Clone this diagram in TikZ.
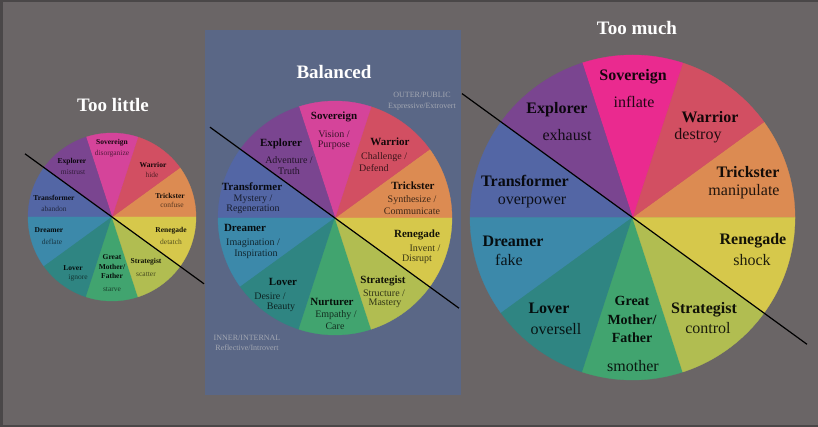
\documentclass[tikz,border=0pt]{standalone}
\usepackage{fontspec}
\setmainfont{Liberation Serif}
\definecolor{frame}{HTML}{4A4748}
\definecolor{bg}{HTML}{6A6566}
\definecolor{panel}{HTML}{5A6786}
\definecolor{cExp}{HTML}{7A4590}
\definecolor{cSov}{HTML}{D5449A}
\definecolor{cSovB}{HTML}{EA2A8F}
\definecolor{cWar}{HTML}{D24F62}
\definecolor{cTri}{HTML}{DC8B52}
\definecolor{cRen}{HTML}{D6C84B}
\definecolor{cStr}{HTML}{B1BD51}
\definecolor{cGrn}{HTML}{41A46F}
\definecolor{cLov}{HTML}{2F8582}
\definecolor{cDre}{HTML}{3C89AA}
\definecolor{cTra}{HTML}{5366A5}
\definecolor{sidetext}{HTML}{A3A7B2}
\newcommand{\pieslice}[5]{%
  \fill[#5, draw=#5, line width=0.3pt] (#1,#2) -- ++(-#4:#3) arc[start angle=-#4, end angle=-#4-36, radius=#3] -- cycle;}
\newcommand{\wholepie}[4]{% cx cy r sovereign colour
  \pieslice{#1}{#2}{#3}{0}{cTri}
  \pieslice{#1}{#2}{#3}{36}{cWar}
  \pieslice{#1}{#2}{#3}{72}{#4}
  \pieslice{#1}{#2}{#3}{108}{cExp}
  \pieslice{#1}{#2}{#3}{144}{cTra}
  \pieslice{#1}{#2}{#3}{180}{cDre}
  \pieslice{#1}{#2}{#3}{216}{cLov}
  \pieslice{#1}{#2}{#3}{252}{cGrn}
  \pieslice{#1}{#2}{#3}{288}{cStr}
  \pieslice{#1}{#2}{#3}{324}{cRen}}
\tikzset{
  title/.style={font=\fontsize{19}{21}\selectfont\bfseries, text=white, inner sep=0},
  lname/.style={font=\fontsize{7.5}{9.5}\selectfont\bfseries, text=black, text opacity=0.9, inner sep=0, align=center},
  ldesc/.style={font=\fontsize{7.5}{9}\selectfont, text=black, text opacity=0.6, inner sep=0, align=center},
  bname/.style={font=\fontsize{11}{12}\selectfont\bfseries, text=black, text opacity=0.9, inner sep=0},
  bdesc/.style={font=\fontsize{10}{11}\selectfont, text=black, text opacity=0.72, inner sep=0},
  mname/.style={font=\fontsize{16}{18.5}\selectfont\bfseries, text=black, text opacity=0.9, inner sep=0, align=center},
  mdesc/.style={font=\fontsize{16}{18}\selectfont, text=black, text opacity=0.85, inner sep=0},
  side/.style={font=\fontsize{8}{9}\selectfont, text=sidetext, inner sep=0},
  divider/.style={draw=black, line width=1.2pt}
}
\begin{document}
\begin{tikzpicture}[x=1pt,y=-1pt]
\useasboundingbox (0,0) rectangle (818,427);
\fill[frame] (0,0) rectangle (818,427);
\fill[bg] (2.5,2.5) rectangle (818,425);
\fill[panel] (205,30) rectangle (461,395);

% pies
\wholepie{112}{217}{84}{cSov}
\wholepie{335}{218}{117}{cSov}
\wholepie{632.5}{217.5}{162.5}{cSovB}

% dividers
\coordinate (l1) at (25,153.8);  \coordinate (l2) at (204,283.8);
\coordinate (b1) at (210,127.2); \coordinate (b2) at (459,308.2);
\coordinate (m1) at (462,93.6);  \coordinate (m2) at (807,344.3);
\draw[divider] (l1) -- (l2);
\draw[divider] (b1) -- (b2);
\draw[divider] (m1) -- (m2);

% titles
\node[title] (t1) at (113,105) {Too little};
\node[title] (t2) at (334,72) {Balanced};
\node[title] (t3) at (637,28) {Too much};

% too little
\node[lname] (lsov) at (112,143) {Sovereign};
\node[ldesc] (lsovd) at (112,154) {disorganize};
\node[lname] (lexp) at (72,162) {Explorer};
\node[ldesc] (lexpd) at (73,172) {mistrust};
\node[lname] (lwar) at (153,165) {Warrior};
\node[ldesc] (lward) at (152,175) {hide};
\node[lname] (ltri) at (170,196) {Trickster};
\node[ldesc] (ltrid) at (172,205) {confuse};
\node[lname] (ltra) at (54,198) {Transformer};
\node[ldesc] (ltrad) at (54,209) {abandon};
\node[lname] (ldre) at (49,230) {Dreamer};
\node[ldesc] (ldred) at (52,242) {deflate};
\node[lname] (lren) at (171,231) {Renegade};
\node[ldesc] (lrend) at (171,242) {detatch};
\node[lname] (llov) at (73,268) {Lover};
\node[ldesc] (llovd) at (78,278) {ignore};
\node[lname] (lgrn) at (112,267) {Great\\Mother/\\Father};
\node[ldesc] (lgrnd) at (112,289) {starve};
\node[lname] (lstr) at (146,262) {Strategist};
\node[ldesc] (lstrd) at (146,274) {scatter};

% balanced
\node[side] (out1) at (422,95) {OUTER/PUBLIC};
\node[side] (out2) at (422,107) {Expressive/Extrovert};
\node[side] (in1) at (247,338) {INNER/INTERNAL};
\node[side] (in2) at (247,347.5) {Reflective/Introvert};
\node[bname] (bsov) at (334,117) {Sovereign};
\node[bdesc] (bsov1) at (334,134) {Vision /};
\node[bdesc] (bsov2) at (334,145) {Purpose};
\node[bname] (bexp) at (281,144) {Explorer};
\node[bdesc] (bexp1) at (289,160) {Adventure /};
\node[bdesc] (bexp2) at (289,171) {Truth};
\node[bname] (bwar) at (390,142) {Warrior};
\node[bdesc, anchor=west] (bwar1) at (361,157) {Challenge /};
\node[bdesc, anchor=west] (bwar2) at (359,168) {Defend};
\node[bname] (btri) at (413,186) {Trickster};
\node[bdesc] (btri1) at (412,200) {Synthesize /};
\node[bdesc] (btri2) at (412,211) {Communicate};
\node[bname] (btra) at (252,187) {Transformer};
\node[bdesc] (btra1) at (253,199) {Mystery /};
\node[bdesc] (btra2) at (253,209.5) {Regeneration};
\node[bname] (bdre) at (245,228) {Dreamer};
\node[bdesc] (bdre1) at (253,243) {Imagination /};
\node[bdesc] (bdre2) at (256,254) {Inspiration};
\node[bname] (bren) at (417,235) {Renegade};
\node[bdesc] (bren1) at (425,248) {Invent /};
\node[bdesc] (bren2) at (417,259) {Disrupt};
\node[bname] (blov) at (283,282) {Lover};
\node[bdesc] (blov1) at (270,296) {Desire /};
\node[bdesc] (blov2) at (281,307) {Beauty};
\node[bname] (bstr) at (383,281) {Strategist};
\node[bdesc] (bstr1) at (384,293) {Structure /};
\node[bdesc] (bstr2) at (385,303) {Mastery};
\node[bname] (bnur) at (332,302) {Nurturer};
\node[bdesc] (bnur1) at (336,315) {Empathy /};
\node[bdesc] (bnur2) at (335,326) {Care};

% too much
\node[mname] (msov) at (633,77) {Sovereign};
\node[mdesc] (msovd) at (634,102) {inflate};
\node[mname] (mexp) at (557,110) {Explorer};
\node[mdesc] (mexpd) at (567,135) {exhaust};
\node[mname] (mwar) at (710,117) {Warrior};
\node[mdesc] (mward) at (698,136) {destroy};
\node[mname] (mtri) at (748,172) {Trickster};
\node[mdesc] (mtrid) at (744,192) {manipulate};
\node[mname] (mtra) at (525,181) {Transformer};
\node[mdesc] (mtrad) at (532,202) {overpower};
\node[mname] (mdre) at (513,241) {Dreamer};
\node[mdesc] (mdred) at (509,260) {fake};
\node[mname] (mren) at (753,241) {Renegade};
\node[mdesc] (mrend) at (752,260) {shock};
\node[mname] (mlov) at (549,308) {Lover};
\node[mdesc] (mlovd) at (556,329) {oversell};
\node[mname, font=\fontsize{14}{18.5}\selectfont\bfseries] (mgrn) at (632,319.5) {Great\\Mother/\\Father};
\node[mdesc] (mgrnd) at (633,366) {smother};
\node[mname] (mstr) at (704,310) {Strategist};
\node[mdesc] (mstrd) at (708,328) {control};
\end{tikzpicture}
\end{document}
